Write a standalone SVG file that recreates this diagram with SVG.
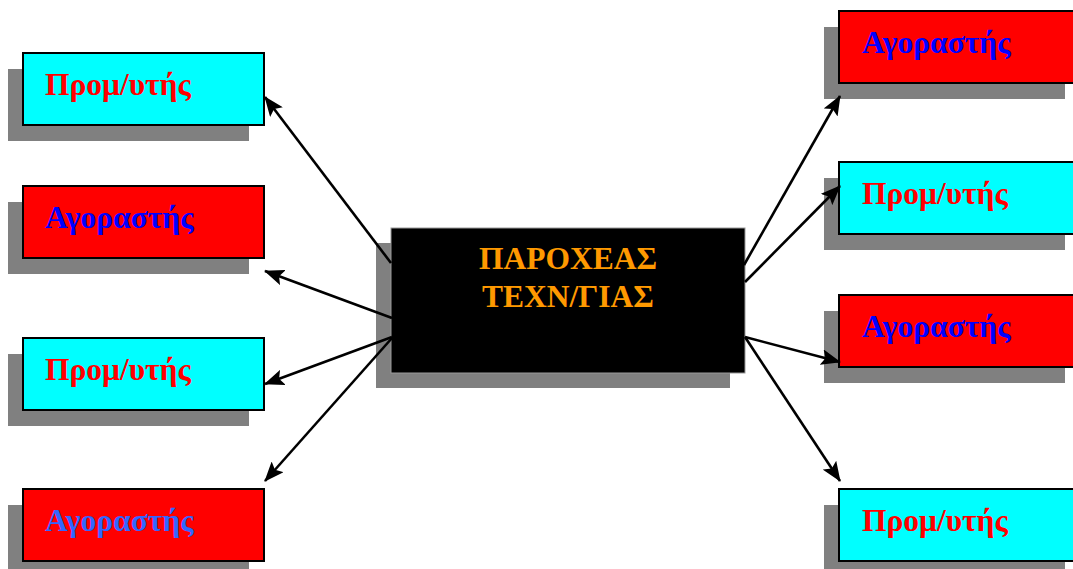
<svg xmlns="http://www.w3.org/2000/svg" width="1073" height="569" viewBox="0 0 1073 569">
<style>
.sh{fill:#808080}
.box{stroke:#000;stroke-width:2}
.cy{fill:#00FFFF}
.rd{fill:#FF0000}
.t{font-family:"Liberation Serif","Times New Roman",serif;font-weight:bold;font-size:31.5px}
.tr{fill:#FF0000}
.tb{fill:#0000FF}
.tl{fill:#3366FF}
.ct{font-size:31.5px;fill:#FF9900}
.c{stroke:#000;stroke-width:2.6;fill:none;marker-end:url(#ah)}
</style>
<defs>
<marker id="ah" viewBox="0 0 20 16" refX="19" refY="8" markerWidth="20" markerHeight="16" markerUnits="userSpaceOnUse" orient="auto">
<path d="M0,0 L20,8 L0,16 L4,8 z" fill="#000"/>
</marker>
</defs>
<rect width="1073" height="569" fill="#fff"/>
<g id="center">
<rect class="sh" x="376" y="243" width="354" height="145"/>
<rect x="391" y="228" width="354" height="145" fill="#000" stroke="#999" stroke-width="1"/>
<text class="t ct" x="568" y="269" text-anchor="middle">ΠΑΡΟΧΕΑΣ</text>
<text class="t ct" x="568" y="307" text-anchor="middle">ΤΕΧΝ/ΓΙΑΣ</text>
</g>
<g id="left1">
<rect class="sh" x="8" y="69" width="241" height="72"/>
<rect class="box cy" x="23" y="53" width="241" height="72"/>
<text class="t tr" x="45" y="95">Προμ/υτής</text>
</g>
<g id="left2">
<rect class="sh" x="8" y="202" width="241" height="72"/>
<rect class="box rd" x="23" y="186" width="241" height="72"/>
<text class="t tb" x="45" y="228">Αγοραστής</text>
</g>
<g id="left3">
<rect class="sh" x="8" y="354" width="241" height="72"/>
<rect class="box cy" x="23" y="338" width="241" height="72"/>
<text class="t tr" x="45" y="380">Προμ/υτής</text>
</g>
<g id="left4">
<rect class="sh" x="8" y="505" width="241" height="64"/>
<rect class="box rd" x="23" y="489" width="241" height="72"/>
<text class="t tl" x="45" y="531">Αγοραστής</text>
</g>
<g id="right1">
<rect class="sh" x="824" y="27" width="241" height="72"/>
<rect class="box rd" x="839" y="11" width="241" height="72"/>
<text class="t tb" x="862" y="53">Αγοραστής</text>
</g>
<g id="right2">
<rect class="sh" x="824" y="178" width="241" height="72"/>
<rect class="box cy" x="839" y="162" width="241" height="72"/>
<text class="t tr" x="862" y="204">Προμ/υτής</text>
</g>
<g id="right3">
<rect class="sh" x="824" y="311" width="241" height="72"/>
<rect class="box rd" x="839" y="295" width="241" height="72"/>
<text class="t tb" x="862" y="337">Αγοραστής</text>
</g>
<g id="right4">
<rect class="sh" x="824" y="505" width="241" height="64"/>
<rect class="box cy" x="839" y="489" width="241" height="72"/>
<text class="t tr" x="862" y="531">Προμ/υτής</text>
</g>
<g id="connectors">
<line class="c" x1="391" y1="263" x2="265" y2="97"/>
<line class="c" x1="392" y1="318" x2="265" y2="271"/>
<line class="c" x1="392" y1="337" x2="265" y2="384"/>
<line class="c" x1="392" y1="338" x2="265" y2="481"/>
<line class="c" x1="744" y1="265" x2="840" y2="96"/>
<line class="c" x1="745" y1="282" x2="840" y2="186"/>
<line class="c" x1="745" y1="337" x2="840" y2="362"/>
<line class="c" x1="745" y1="337" x2="840" y2="481"/>
</g>
</svg>
